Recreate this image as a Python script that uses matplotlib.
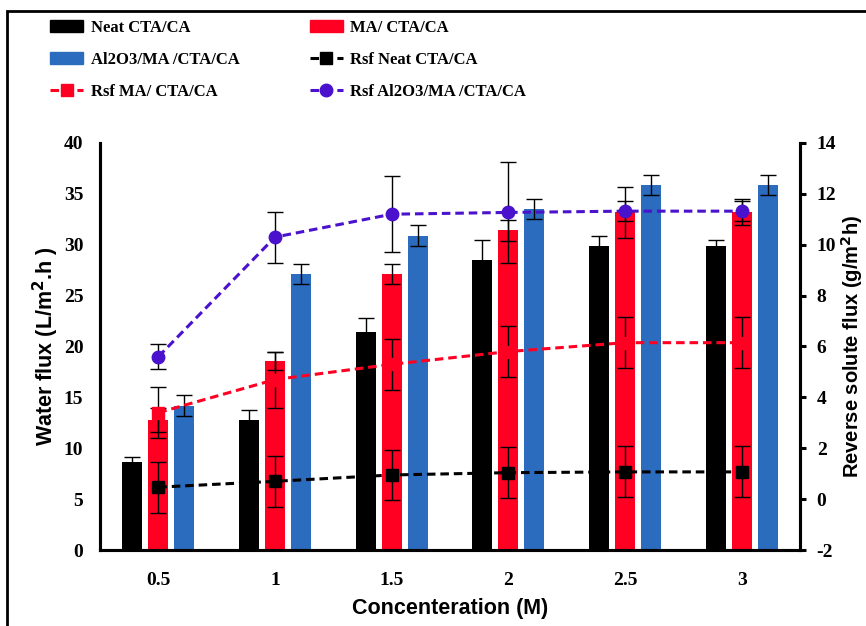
import numpy as np
import matplotlib.pyplot as plt
from matplotlib.patches import Rectangle, Patch
from matplotlib.lines import Line2D

plt.rcParams['axes.unicode_minus'] = False

# data
conc = ['0.5', '1', '1.5', '2', '2.5', '3']

neat = [8.6, 12.8, 21.4, 28.5, 29.9, 29.9]
neat_err = [0.5, 1.0, 1.4, 2.0, 1.0, 0.55]
ma = [12.8, 18.6, 27.1, 31.4, 33.2, 33.2]
ma_err = [1.2, 0.9, 1.0, 1.0, 2.5, 1.25]
al = [14.2, 27.1, 30.9, 33.5, 35.9, 35.9]
al_err = [1.0, 1.0, 1.0, 1.0, 1.0, 1.0]

rsf_neat = [0.47, 0.7, 0.95, 1.04, 1.07, 1.07]
rsf_neat_err = [1.0, 1.0, 1.0, 1.0, 1.0, 1.0]
rsf_ma = [3.4, 4.7, 5.3, 5.8, 6.15, 6.15]
rsf_ma_err = [1.0, 1.1, 1.0, 1.0, 1.0, 1.0]
rsf_al = [5.6, 10.3, 11.2, 11.27, 11.32, 11.32]
rsf_al_err = [0.5, 1.0, 1.5, 2.0, 0.4, 0.4]

RED = '#FF0022'
BLUE = '#2C6CBF'
PURPLE = '#4A12CC'

serif = {'family': 'Liberation Serif', 'weight': 'bold'}
sans = {'family': 'Liberation Sans', 'weight': 'bold'}

fig = plt.figure(figsize=(8.66, 6.26), dpi=100)
ax = fig.add_axes([0.1155, 0.1214, 0.8083, 0.6502])
ax2 = ax.twinx()

x = np.arange(len(conc))
w = 0.17
off = 0.223
ekw = dict(ecolor='black', elinewidth=1.0, capsize=6, capthick=1.0)

ax.bar(x - off, neat, w, color='black', yerr=neat_err, error_kw=ekw)
ax.bar(x, ma, w, color=RED, yerr=ma_err, error_kw=ekw)
ax.bar(x + off, al, w, color=BLUE, yerr=al_err, error_kw=ekw)

dash = (2.8, 1.6)
lkw = dict(linestyle='--', dashes=dash, linewidth=2.2, markersize=9,
           ecolor='black', elinewidth=1.0, capsize=6, capthick=1.0)
ax2.errorbar(x, rsf_neat, yerr=rsf_neat_err, color='black', marker='s', **lkw)
ax2.errorbar(x, rsf_ma, yerr=rsf_ma_err, color=RED, marker='s', **lkw)
ax2.errorbar(x, rsf_al, yerr=rsf_al_err, color=PURPLE, marker='o', **lkw)

ax.set_xlim(-0.5, 5.5)
ax.set_ylim(0, 40)
ax.set_yticks(range(0, 41, 5))
ax2.set_ylim(-2, 14)
ax2.set_yticks(range(-2, 15, 2))
ax.set_xticks(x)
ax.set_xticklabels(conc)

for a in (ax, ax2):
    a.spines['top'].set_visible(False)
    for s in a.spines.values():
        s.set_linewidth(2.2)
ax.tick_params(axis='both', length=0, pad=12)
ax.tick_params(axis='x', pad=16)
ax2.tick_params(axis='y', length=4, width=2.2, direction='out', pad=8)
for lab in ax.get_xticklabels() + ax.get_yticklabels() + ax2.get_yticklabels():
    lab.set_fontproperties(serif)
    lab.set_fontsize(14)

ax.set_xlabel('Concenteration (M)', fontdict=sans, fontsize=15.5, labelpad=6)
ax.set_ylabel('Water flux (L/m$^\\mathbf{2}$.h )', fontdict=sans, fontsize=15.5, labelpad=2)
ax2.set_ylabel('Reverse solute flux (g/m$^\\mathbf{2}$h)', fontdict=sans, fontsize=14.5, labelpad=2)

# legend
h_neat = Patch(color='black', label='Neat CTA/CA')
h_ma = Patch(color=RED, label='MA/ CTA/CA')
h_al = Patch(color=BLUE, label='Al2O3/MA /CTA/CA')
h_rn = Line2D([], [], color='black', linestyle='--', dashes=dash, linewidth=2.2,
              marker='s', markersize=9, label='Rsf Neat CTA/CA')
h_rm = Line2D([], [], color=RED, linestyle='--', dashes=dash, linewidth=2.2,
              marker='s', markersize=9, label='Rsf MA/ CTA/CA')
h_ra = Line2D([], [], color=PURPLE, linestyle='--', dashes=dash, linewidth=2.2,
              marker='o', markersize=9, label='Rsf Al2O3/MA /CTA/CA')
handles = [h_neat, h_al, h_rm, h_ma, h_rn, h_ra]
fig.legend(handles, [h.get_label() for h in handles], ncol=2, loc='upper left',
           bbox_to_anchor=(0.0577, 0.968), frameon=False,
           prop={'family': 'Liberation Serif', 'weight': 'bold', 'size': 12},
           handlelength=2.0, handleheight=0.7, handletextpad=0.45, columnspacing=4.2,
           labelspacing=0.95, borderpad=0, borderaxespad=0)

# outer frame
fig.patches.append(Rectangle((7 / 866, -0.1), 1.2, 1.1 - 11 / 626, transform=fig.transFigure,
                             fill=False, edgecolor='black', linewidth=2, zorder=10))

fig.savefig('out.png', dpi=100)
